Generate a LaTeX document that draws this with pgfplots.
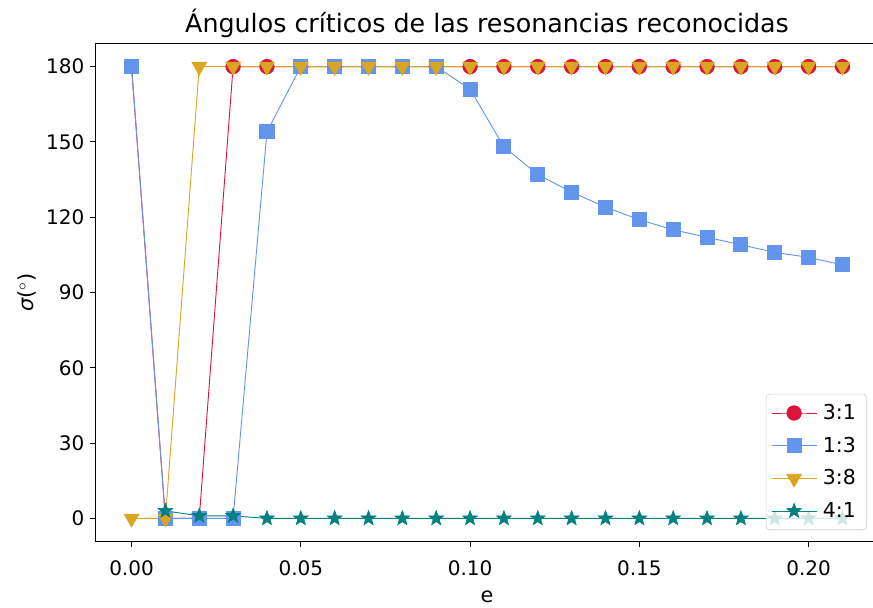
\documentclass[border=0pt]{standalone}
\usepackage{pgfplots}
\pgfplotsset{compat=1.18}
\usepackage{fontspec}
\setmainfont{DejaVu Sans}
\usetikzlibrary{plotmarks}

\definecolor{c31}{RGB}{220,20,60}
\definecolor{c13}{RGB}{100,149,237}
\definecolor{c38}{RGB}{218,165,32}
\definecolor{c41}{RGB}{0,128,128}

% filled five-pointed star
\pgfdeclareplotmark{fstar}{%
  \pgfpathmoveto{\pgfpointpolar{90}{\pgfplotmarksize}}%
  \pgfpathlineto{\pgfpointpolar{126}{0.42\pgfplotmarksize}}%
  \pgfpathlineto{\pgfpointpolar{162}{\pgfplotmarksize}}%
  \pgfpathlineto{\pgfpointpolar{198}{0.42\pgfplotmarksize}}%
  \pgfpathlineto{\pgfpointpolar{234}{\pgfplotmarksize}}%
  \pgfpathlineto{\pgfpointpolar{270}{0.42\pgfplotmarksize}}%
  \pgfpathlineto{\pgfpointpolar{306}{\pgfplotmarksize}}%
  \pgfpathlineto{\pgfpointpolar{342}{0.42\pgfplotmarksize}}%
  \pgfpathlineto{\pgfpointpolar{18}{\pgfplotmarksize}}%
  \pgfpathlineto{\pgfpointpolar{54}{0.42\pgfplotmarksize}}%
  \pgfpathclose
  \pgfusepathqfillstroke
}

\begin{document}
\begin{tikzpicture}
\begin{axis}[
  at={(0,0)}, anchor=south west,
  scale only axis,
  width=469.2pt, height=298.2pt,
  xmin=-0.0105, xmax=0.2205,
  ymin=-9, ymax=189,
  xtick={0,0.05,0.1,0.15,0.2},
  xticklabels={0.00,0.05,0.10,0.15,0.20},
  ytick={0,30,60,90,120,150,180},
  tick align=outside,
  tick style={black, line width=0.5pt},
  major tick length=3.5pt,
  xtick pos=bottom, ytick pos=left,
  axis line style={line width=0.6pt},
  /pgf/number format/assume math mode=true,
  tick label style={font=\fontsize{12}{14}\selectfont},
  xticklabel style={yshift=-5pt},
  xlabel={e},
  ylabel={{\itshape σ}($^{\circ}$)},
  label style={font=\fontsize{12.5}{14}\selectfont},
  xlabel style={yshift=-2pt},
  ylabel style={yshift=-1pt},
  title={Ángulos críticos de las resonancias reconocidas},
  title style={font=\fontsize{15.2}{17}\selectfont, yshift=-5.5pt},
  legend cell align=left,
  legend style={
    at={(0.986,0.022)}, anchor=south east,
    draw=black!18, rounded corners=2pt,
    fill=white, fill opacity=0.8, text opacity=1,
    font=\fontsize{12.3}{14}\selectfont,
    row sep=5pt, inner xsep=3pt, inner ysep=4pt,
    nodes={inner sep=2pt, inner xsep=3.5pt},
  },
  legend image code/.code={%
    \draw[mark repeat=2, mark phase=2, fill opacity=1, draw opacity=1]
      plot coordinates {(0pt,0pt) (13.5pt,0pt) (27pt,0pt)};
  },
  every axis plot/.append style={line width=0.55pt},
]
% 3:1
\addplot[color=c31, mark=*, mark size=4.3pt, mark options={fill=c31, draw=c31}]
  coordinates {
  (0.00,180) (0.01,0) (0.02,0) (0.03,180) (0.04,180) (0.05,180) (0.06,180)
  (0.07,180) (0.08,180) (0.09,180) (0.10,180) (0.11,180) (0.12,180)
  (0.13,180) (0.14,180) (0.15,180) (0.16,180) (0.17,180) (0.18,180)
  (0.19,180) (0.20,180) (0.21,180)};
\addlegendentry{3:1}
% 1:3
\addplot[color=c13, mark=square*, mark size=4.2pt, mark options={fill=c13, draw=c13}]
  coordinates {
  (0.00,180) (0.01,0) (0.02,0) (0.03,0) (0.04,154) (0.05,180) (0.06,180)
  (0.07,180) (0.08,180) (0.09,180) (0.10,171) (0.11,148) (0.12,137)
  (0.13,130) (0.14,124) (0.15,119) (0.16,115) (0.17,112) (0.18,109)
  (0.19,106) (0.20,104) (0.21,101)};
\addlegendentry{1:3}
% 3:8
\addplot[color=c38, mark=triangle*, mark size=5pt, mark options={fill=c38, draw=c38, rotate=180}]
  coordinates {
  (0.00,0) (0.01,0) (0.02,180) (0.03,180) (0.04,180) (0.05,180) (0.06,180)
  (0.07,180) (0.08,180) (0.09,180) (0.10,180) (0.11,180) (0.12,180)
  (0.13,180) (0.14,180) (0.15,180) (0.16,180) (0.17,180) (0.18,180)
  (0.19,180) (0.20,180) (0.21,180)};
\addlegendentry{3:8}
% 4:1
\addplot[color=c41, mark=fstar, mark size=4.6pt, mark options={fill=c41, draw=c41, line width=0.4pt}]
  coordinates {
  (0.01,3) (0.02,1) (0.03,1) (0.04,0) (0.05,0) (0.06,0)
  (0.07,0) (0.08,0) (0.09,0) (0.10,0) (0.11,0) (0.12,0)
  (0.13,0) (0.14,0) (0.15,0) (0.16,0) (0.17,0) (0.18,0)
  (0.19,0) (0.20,0) (0.21,0)};
\addlegendentry{4:1}
\end{axis}
\pgfresetboundingbox
\useasboundingbox (-57.6pt,-39.6pt) rectangle (466.2pt,324.6pt);
\end{tikzpicture}
\end{document}
